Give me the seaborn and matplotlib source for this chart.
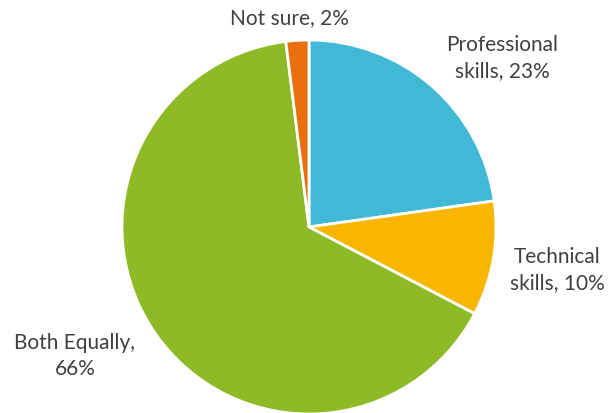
import matplotlib
matplotlib.use("Agg")
import matplotlib.pyplot as plt
import seaborn as sns

categories = ["Professional skills", "Technical skills", "Both Equally", "Not sure"]
values = [23, 10, 66, 2]
label_texts = ["Professional\nskills, 23%", "Technical\nskills, 10%", "Both Equally,\n66%", "Not sure, 2%"]
colors = ["#41B8D5", "#F9B600", "#8FBA27", "#E8700E"]

sns.set_theme(style="white")
plt.rcParams["font.family"] = ["Lato", "DejaVu Sans"]

W, H = 608, 413
fig = plt.figure(figsize=(W / 100, H / 100), dpi=100)
ax = fig.add_axes([0, 0, 1, 1])

cx, cy, r = 309, H - 227, 187
ax.pie(values, colors=colors, startangle=90, counterclock=False,
       center=(cx, cy), radius=r, frame=True,
       wedgeprops=dict(edgecolor="white", linewidth=2))
ax.set_xlim(0, W)
ax.set_ylim(0, H)
ax.set_aspect("equal")
ax.axis("off")

label_pos = [(502, H - 58), (557, H - 270), (75, H - 356), (289, H - 18)]
for txt, (x, y) in zip(label_texts, label_pos):
    ax.text(x, y, txt, ha="center", va="center", fontsize=15,
            color="#404040", linespacing=1.35)

fig.savefig("out.png", dpi=100)
